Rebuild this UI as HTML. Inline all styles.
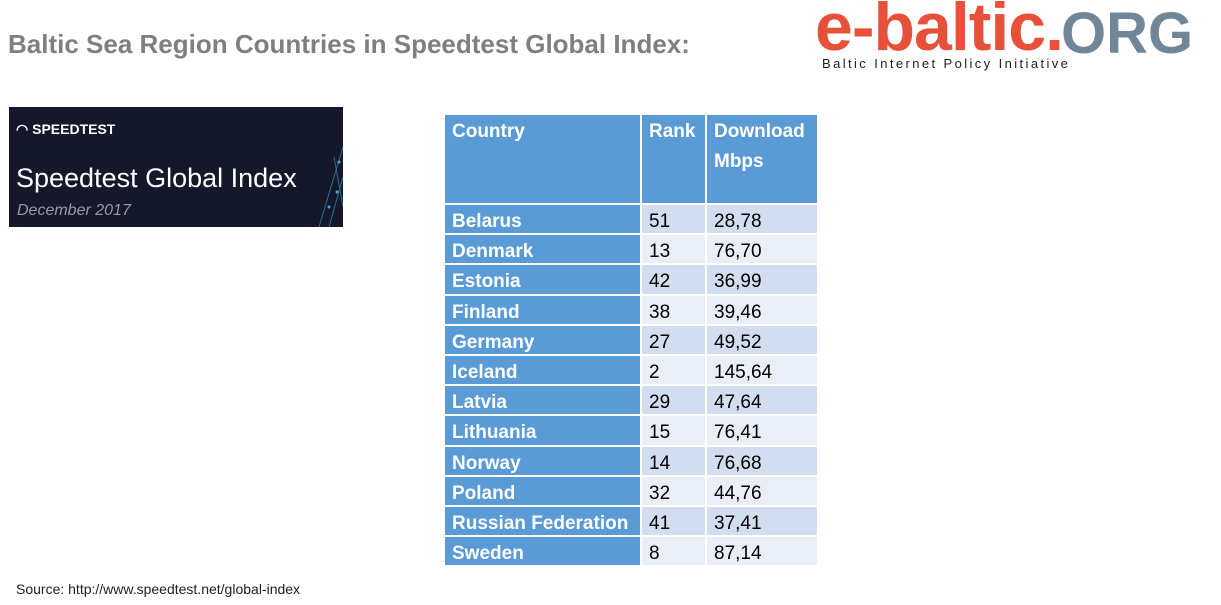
<!DOCTYPE html>
<html><head><meta charset="utf-8"><style>
body{margin:0;width:1221px;height:605px;background:#fff;position:relative;overflow:hidden;font-family:"Liberation Sans",sans-serif}
.a{position:absolute}
.c{position:absolute;box-sizing:border-box;font-family:"Liberation Sans",sans-serif;font-size:19px;padding-left:7px;color:#000}
</style></head><body>
<div class="a" style="left:8px;top:29px;font-size:26px;font-weight:bold;color:#7f7f7f">Baltic Sea Region Countries in Speedtest Global Index:</div>
<div class="a" style="left:815px;top:-8px;width:406px;height:80px">
 <span style="position:absolute;left:0;top:-4px;font-size:68px;font-weight:bold;color:#e8503a;letter-spacing:-1px">e-baltic.</span><span style="position:absolute;left:246px;top:8px;font-size:58px;font-weight:bold;color:#6f8799">ORG</span>
 <span style="position:absolute;left:7px;top:64px;font-size:13px;color:#222;letter-spacing:2.4px">Baltic Internet Policy Initiative</span>
</div>
<div class="a" style="left:9px;top:107px;width:334px;height:120px;background:#15172a;overflow:hidden">
 <div style="position:absolute;left:7px;top:14px;color:#fff;font-size:14px;font-weight:bold">◠ SPEEDTEST</div>
 <div style="position:absolute;left:7px;top:56px;color:#fff;font-size:27px">Speedtest Global Index</div>
 <div style="position:absolute;left:8px;top:95px;color:#9a9aa5;font-size:16px;font-style:italic">December 2017</div>
 <svg style="position:absolute;left:290px;top:30px" width="44" height="90"><path d="M44 10 L20 90 M44 40 L30 90 M35 20 L44 70" stroke="#2a6f8f" stroke-width="1" fill="none"/><circle cx="40" cy="25" r="1.5" fill="#4ad"/><circle cx="30" cy="70" r="1.5" fill="#4ad"/><circle cx="38" cy="55" r="1.5" fill="#4ad"/></svg>
</div>
<div id="tbl"></div>
<div class="a" style="left:16px;top:581px;font-size:14px;color:#222">Source: http://www.speedtest.net/global-index</div>
<script>
const countries=["Belarus","Denmark","Estonia","Finland","Germany","Iceland","Latvia","Lithuania","Norway","Poland","Russian Federation","Sweden"];
const ranks=["51","13","42","38","27","2","29","15","14","32","41","8"];
const speeds=["28,78","76,70","36,99","39,46","49,52","145,64","47,64","76,41","76,68","44,76","37,41","87,14"];
const headers=["Country","Rank","Download Mbps"];
const t=document.getElementById('tbl');
const cx=[445,642,707],cw=[195,63,110];
function cell(x,y,w,h,txt,bg,bold,white,name){
 const d=document.createElement('div');d.className='c';
 
 
 d.style.left=x+'px';d.style.top=y+'px';d.style.width=w+'px';d.style.height=h+'px';
 d.style.background=bg;d.style.lineHeight='30px';d.style.paddingTop='2px';
 if(bold)d.style.fontWeight='bold';if(white)d.style.color='#fff';
 d.textContent=txt;t.appendChild(d);return d;}
headers.forEach((h,i)=>{cell(cx[i],115,cw[i],88,h,'#5b9bd5',true,true,'header-'+i);});
const rh=30.2;
countries.forEach((c,i)=>{
 const y=205+i*rh, bg=i%2?'#eaeff7':'#d2deef';
 cell(cx[0],y,cw[0],rh-2,c,'#5b9bd5',true,true,'country-'+c.toLowerCase().replace(/ /g,'-'));
 cell(cx[1],y,cw[1],rh-2,ranks[i],bg,false,false,'rank-'+i);
 cell(cx[2],y,cw[2],rh-2,speeds[i],bg,false,false,'download-'+i);
});
</script>
</body></html>
